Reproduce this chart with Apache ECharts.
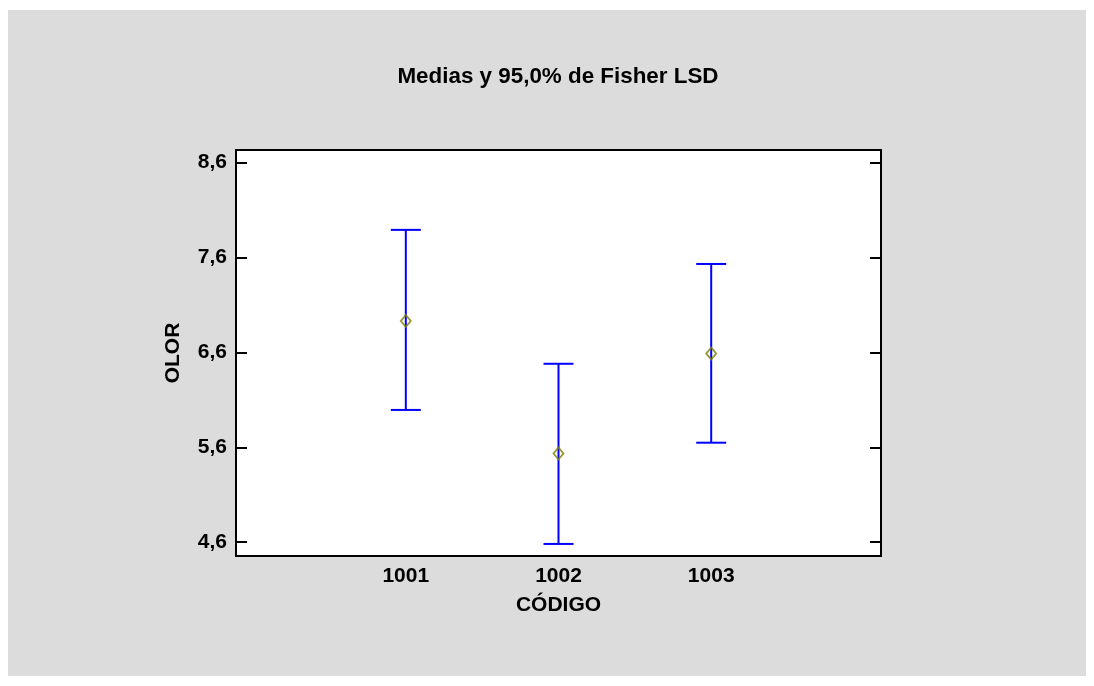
<!DOCTYPE html>
<html>
<head>
<meta charset="utf-8">
<script src="https://cdn.jsdelivr.net/npm/echarts@6/dist/echarts.min.js"></script>
<style>
  html, body { margin: 0; padding: 0; background: #ffffff; width: 1094px; height: 686px; overflow: hidden; }
  #chart { position: absolute; left: 8px; top: 10px; width: 1078px; height: 666px; background: #dcdcdc; }
</style>
</head>
<body>
<div id="chart"></div>
<script>
// Data
const codes = [1001, 1002, 1003];
const means = [6.93, 5.535, 6.587];
const lowers = [5.993, 4.582, 5.648];
const uppers = [7.889, 6.479, 7.530];
const yTicks = [4.6, 5.6, 6.6, 7.6, 8.6];
const xTicks = [1001, 1002, 1003];

const FONT = '"Liberation Sans", Arial, sans-serif';
const chart = echarts.init(document.getElementById('chart'), null, { renderer: 'canvas' });

const barData = codes.map((c, i) => [c, lowers[i], uppers[i]]);
const meanData = codes.map((c, i) => [c, means[i]]);

const fmtComma = v => String(Math.round(v * 10) / 10).replace('.', ',');

chart.setOption({
  backgroundColor: 'transparent',
  animation: false,
  title: {
    text: 'Medias y 95,0% de Fisher LSD',
    left: 545,
    top: 51,
    textAlign: 'center',
    textStyle: { fontFamily: FONT, fontWeight: 'bold', fontSize: 22.4, color: '#000' }
  },
  grid: {
    left: 228, top: 140, right: 205, bottom: 120,
    show: true, backgroundColor: '#ffffff', borderColor: '#000000', borderWidth: 2
  },
  xAxis: {
    type: 'value',
    min: 999.888, max: 1004.112,
    name: 'CÓDIGO',
    nameLocation: 'middle',
    nameGap: 39,
    nameTextStyle: { fontFamily: FONT, fontWeight: 'bold', fontSize: 21, color: '#000' },
    axisLine: { show: true, lineStyle: { color: '#000', width: 2 } },
    axisTick: { show: false },
    splitLine: { show: false },
    axisLabel: {
      customValues: xTicks,
      margin: 10,
      fontFamily: FONT, fontWeight: 'bold', fontSize: 21, color: '#000',
      formatter: v => String(v)
    }
  },
  yAxis: [{
    type: 'value',
    min: 4.455, max: 8.73,
    name: 'OLOR',
    nameLocation: 'middle',
    nameRotate: 90,
    nameGap: 52,
    nameTextStyle: { fontFamily: FONT, fontWeight: 'bold', fontSize: 21, color: '#000' },
    axisLine: { show: true, lineStyle: { color: '#000', width: 2 } },
    axisTick: { show: true, inside: true, length: 11, customValues: yTicks, lineStyle: { color: '#000', width: 2 } },
    splitLine: { show: false },
    axisLabel: {
      customValues: yTicks,
      margin: 9,
      fontFamily: FONT, fontWeight: 'bold', fontSize: 21, color: '#000',
      formatter: fmtComma
    }
  }, {
    type: 'value',
    position: 'right',
    min: 4.455, max: 8.73,
    axisLine: { show: true, lineStyle: { color: '#000', width: 2 } },
    axisTick: { show: true, inside: true, length: 11, customValues: yTicks, lineStyle: { color: '#000', width: 2 } },
    splitLine: { show: false },
    axisLabel: { show: false, customValues: yTicks }
  }],
  series: [{
    type: 'custom',
    data: barData,
    encode: { x: 0, y: [1, 2] },
    renderItem: function (params, api) {
      const x = api.value(0);
      const lo = api.coord([x, api.value(1)]);
      const hi = api.coord([x, api.value(2)]);
      const hw = 15;
      const style = { stroke: '#0000ff', lineWidth: 2, fill: null };
      return {
        type: 'group',
        children: [
          { type: 'line', shape: { x1: lo[0], y1: lo[1], x2: hi[0], y2: hi[1] }, style: style },
          { type: 'line', shape: { x1: lo[0] - hw, y1: lo[1], x2: lo[0] + hw, y2: lo[1] }, style: style },
          { type: 'line', shape: { x1: hi[0] - hw, y1: hi[1], x2: hi[0] + hw, y2: hi[1] }, style: style }
        ]
      };
    },
    z: 2
  }, {
    type: 'scatter',
    data: meanData,
    symbol: 'diamond',
    symbolSize: [10, 12],
    itemStyle: { color: 'rgba(255,255,255,0)', borderColor: '#808000', borderWidth: 1.8 },
    z: 3
  }]
});
</script>
</body>
</html>
